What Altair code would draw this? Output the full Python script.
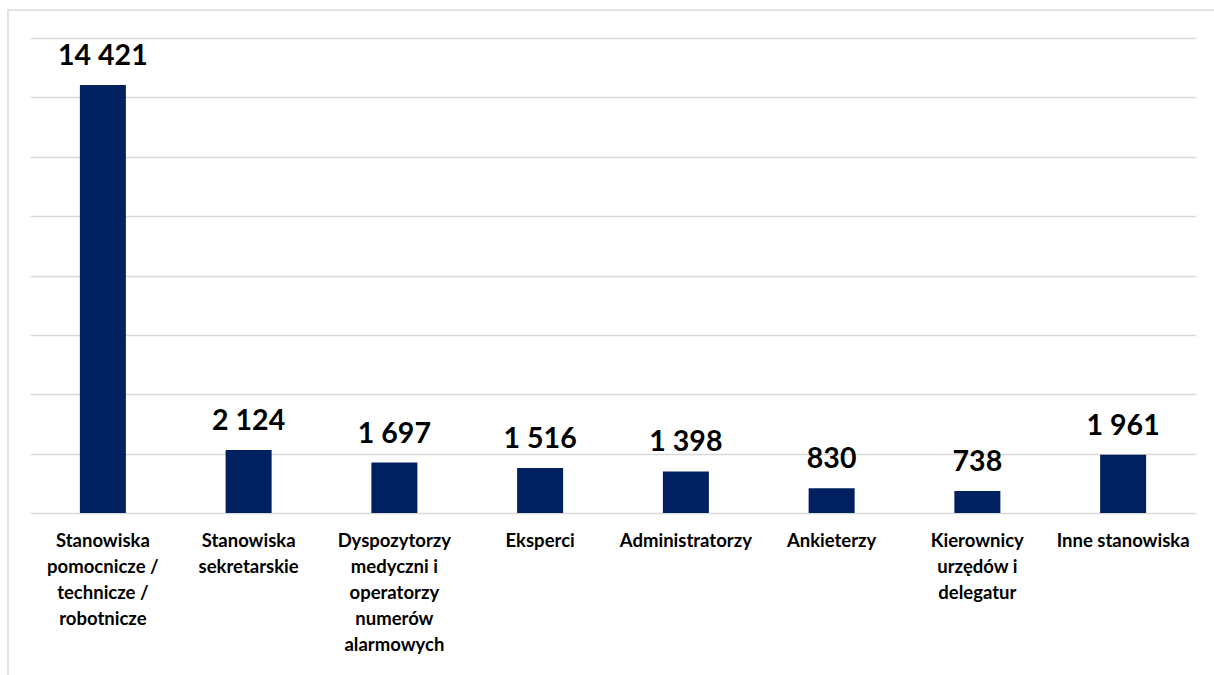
import altair as alt
import pandas as pd

# Data
categories = [
    "Stanowiska|pomocnicze /|technicze /|robotnicze",
    "Stanowiska|sekretarskie",
    "Dyspozytorzy|medyczni i|operatorzy|numerów|alarmowych",
    "Eksperci",
    "Administratorzy",
    "Ankieterzy",
    "Kierownicy|urzędów i|delegatur",
    "Inne stanowiska",
]
values = [14421, 2124, 1697, 1516, 1398, 830, 738, 1961]
y_ticks = [0, 2000, 4000, 6000, 8000, 10000, 12000, 14000, 16000]

df = pd.DataFrame({"cat": categories, "val": values})

FONT = "Lato"
NAVY = "#002060"
GRID = "#d9d9d9"

W, H = 1166, 475

x_enc = alt.X(
    "cat:N",
    sort=None,
    scale=alt.Scale(paddingInner=0, paddingOuter=0),
    axis=alt.Axis(
        title=None,
        labelAngle=0,
        labelExpr="split(datum.label, '|')",
        labelFont=FONT,
        labelFontWeight="bold",
        labelFontSize=18.5,
        labelColor="#000000",
        labelLimit=0,
        labelLineHeight=26,
        labelPadding=18,
        domain=False,
        ticks=False,
    ),
)
y_enc = alt.Y(
    "val:Q",
    scale=alt.Scale(domain=[0, 16000], nice=False),
    axis=alt.Axis(
        title=None,
        values=y_ticks,
        labels=False,
        ticks=False,
        domain=False,
        grid=True,
        gridColor=GRID,
        gridWidth=1.5,
    ),
)

frame = alt.Chart(pd.DataFrame({"a": [0]})).mark_rect(
    filled=False, stroke=GRID, strokeWidth=1.5
).encode(
    x=alt.value(-22), x2=alt.value(W + 60), y=alt.value(-28), y2=alt.value(H + 250)
)

base = alt.Chart(df)
bars = base.mark_bar(color=NAVY, size=46).encode(x=x_enc, y=y_enc)
labels = base.mark_text(
    font=FONT, fontWeight="bold", fontSize=28.5, color="#000000",
    baseline="alphabetic", dy=-20,
).transform_calculate(
    txt="replace(format(datum.val, ','), ',', ' ')"
).encode(x=alt.X("cat:N", sort=None), y="val:Q", text="txt:N")

chart = alt.layer(frame, bars, labels).properties(
    width=W, height=H,
    autosize=alt.AutoSizeParams(type="none"),
    padding={"left": 30, "top": 38, "right": 18, "bottom": 162},
    background="white",
).configure_view(stroke=None)

chart.save("out.html", embed_options={"renderer": "svg", "actions": False})
